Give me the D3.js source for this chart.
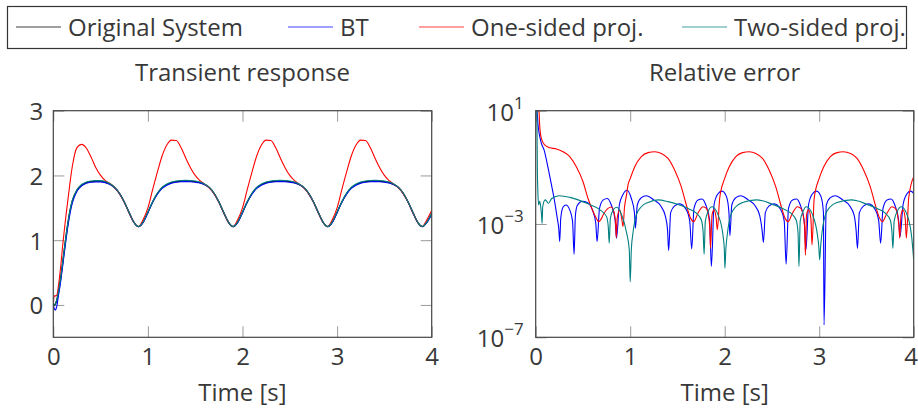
<!DOCTYPE html>
<html><head><meta charset="utf-8">
<script src="https://cdn.jsdelivr.net/npm/d3@7"></script>
<style>
body{margin:0;background:#fff;}
svg text{font-family:"Open Sans",sans-serif;fill:#383838;}
</style>
</head><body><svg id="c" width="918" height="409"></svg>
<script>
// ---------- data ----------
const seriesNames = ["Original System","BT","One-sided proj.","Two-sided proj."];
const seriesColors = ["#000000","#0000ff","#ff0000","#008080"];
const titles = ["Transient response","Relative error"];
const xLabel = "Time [s]";
const timeTicks = [0,1,2,3,4];
const respTicks = [0,1,2,3];
const errTicks = [1e1,1e-3,1e-7];
const errTickExp = ["1","\u22123","\u22127"];

const tResp = [0,0.01,0.02,0.03,0.04,0.05,0.075,0.1,0.125,0.15,0.175,0.2,0.25,
 0.3,0.35,0.4,0.45,0.5,0.55,0.6,0.65,0.7,0.75,0.8,0.85,0.9,
 0.95,1.0,1.05,1.1,1.15,1.2,1.25,1.3,1.35,1.4,1.45,1.5,1.55,1.6,1.65,1.7,1.75,1.8,1.85,1.9,
 1.95,2.0,2.05,2.1,2.15,2.2,2.25,2.3,2.35,2.4,2.45,2.5,2.55,2.6,2.65,2.7,2.75,2.8,2.85,2.9,
 2.95,3.0,3.05,3.1,3.15,3.2,3.25,3.3,3.35,3.4,3.45,3.5,3.55,3.6,3.65,3.7,3.75,3.8,3.85,3.9,
 3.95,4.0];
const yOrig = [0,0,0.01,0.04,0.09,0.16,0.38,0.66,0.95,1.22,1.44,1.6,1.77,
 1.85,1.89,1.905,1.91,1.91,1.895,1.865,1.81,1.72,1.59,1.43,1.28,1.21,
 1.28,1.43,1.59,1.72,1.81,1.86,1.89,1.905,1.913,1.915,1.913,1.905,1.89,1.86,1.81,1.72,1.59,1.43,1.28,1.21,
 1.28,1.43,1.59,1.72,1.81,1.86,1.89,1.905,1.913,1.915,1.913,1.905,1.89,1.86,1.81,1.72,1.59,1.43,1.28,1.21,
 1.28,1.43,1.59,1.72,1.81,1.86,1.89,1.905,1.913,1.915,1.913,1.905,1.89,1.86,1.81,1.72,1.59,1.43,1.28,1.21,
 1.28,1.41];
const yBT = [0,-0.05,-0.08,-0.06,0.0,0.1,0.33,0.61,0.9,1.17,1.4,1.57,1.755,
 1.84,1.88,1.895,1.9,1.9,1.888,1.86,1.807,1.72,1.59,1.43,1.28,1.21,
 1.275,1.425,1.585,1.71,1.8,1.85,1.88,1.895,1.903,1.905,1.903,1.895,1.882,1.855,1.807,1.72,1.59,1.43,1.28,1.21,
 1.275,1.425,1.585,1.71,1.8,1.85,1.88,1.895,1.903,1.905,1.903,1.895,1.882,1.855,1.807,1.72,1.59,1.43,1.28,1.21,
 1.275,1.425,1.585,1.71,1.8,1.85,1.88,1.895,1.903,1.905,1.903,1.895,1.882,1.855,1.807,1.72,1.59,1.43,1.28,1.21,
 1.275,1.40];
const yOne = [0,0.14,0.14,0.14,0.16,0.25,0.55,0.93,1.27,1.57,1.87,2.13,2.43,
 2.48,2.42,2.28,2.12,2.0,1.92,1.875,1.81,1.72,1.59,1.43,1.28,1.21,
 1.32,1.5,1.78,2.05,2.3,2.47,2.545,2.54,2.43,2.27,2.12,2.0,1.92,1.865,1.81,1.72,1.59,1.43,1.28,1.21,
 1.32,1.5,1.78,2.05,2.3,2.47,2.545,2.54,2.43,2.27,2.12,2.0,1.92,1.865,1.81,1.72,1.59,1.43,1.28,1.21,
 1.32,1.5,1.78,2.05,2.3,2.47,2.545,2.54,2.43,2.27,2.12,2.0,1.92,1.865,1.81,1.72,1.59,1.43,1.28,1.21,
 1.32,1.46];
const yTwo = [0,0,0.01,0.05,0.1,0.17,0.39,0.67,0.96,1.23,1.45,1.61,1.78,
 1.86,1.9,1.915,1.92,1.92,1.905,1.872,1.815,1.725,1.595,1.435,1.283,1.212,
 1.283,1.435,1.595,1.725,1.817,1.868,1.898,1.914,1.922,1.925,1.922,1.914,1.898,1.868,1.815,1.725,1.595,1.435,1.283,1.212,
 1.283,1.435,1.595,1.725,1.817,1.868,1.898,1.914,1.922,1.925,1.922,1.914,1.898,1.868,1.815,1.725,1.595,1.435,1.283,1.212,
 1.283,1.435,1.595,1.725,1.817,1.868,1.898,1.914,1.922,1.925,1.922,1.914,1.898,1.868,1.815,1.725,1.595,1.435,1.283,1.212,
 1.283,1.42];

const tErrBT = [0,0.014,0.025,0.042,0.06,0.09,0.13,0.166,0.2,0.226,0.245,0.254,
 0.265,0.29,0.32,0.36,0.39,0.406,0.42,0.44,0.49,0.55,0.6,0.635,0.65,
 0.675,0.715,0.758,0.8,0.84,0.855,0.885,0.925,0.966,1.012,1.045,1.055,
 1.075,1.118,1.17,1.25,1.32,1.37,1.395,1.407,1.428,1.47,1.524,1.594,1.63,1.651,
 1.675,1.718,1.76,1.8,1.84,1.859,1.887,1.925,1.972,2.02,2.045,2.055,
 2.075,2.118,2.17,2.25,2.32,2.37,2.395,2.41,2.43,2.47,2.524,2.594,2.63,2.65,
 2.675,2.718,2.76,2.8,2.84,2.86,2.887,2.925,2.972,3.02,3.045,3.051,
 3.075,3.118,3.17,3.25,3.32,3.37,3.39,3.405,3.425,3.47,3.524,3.594,3.63,3.65,
 3.675,3.718,3.76,3.8,3.84,3.855,3.887,3.925,3.968,4.0];
const eBT = [31.6,10,3.1,1.26,0.71,0.4,0.1,0.025,6.3e-3,1.78e-3,6.3e-4,2.4e-4,
 1.58e-3,3.98e-3,4.68e-3,3.16e-3,1.26e-3,8.5e-5,2.0e-3,4.47e-3,6.31e-3,5.62e-3,3.16e-3,1.12e-3,2.4e-4,
 3.55e-3,7.08e-3,7.94e-3,4.68e-3,1.41e-3,3.16e-4,4.68e-3,0.0112,0.0155,7.94e-3,2.51e-3,7.08e-4,
 4.68e-3,8.5e-3,0.01,7.08e-3,4.47e-3,2.0e-3,6.31e-4,1.15e-4,2.51e-3,4.37e-3,5.13e-3,3.16e-3,1.26e-3,1.32e-4,
 3.55e-3,7.08e-3,7.59e-3,4.68e-3,1.41e-3,3.16e-5,4.68e-3,0.0112,0.0145,9.1e-3,2.51e-3,3.9e-4,
 4.68e-3,8.5e-3,0.01,7.08e-3,4.47e-3,2.0e-3,6.31e-4,2.24e-4,2.51e-3,4.37e-3,5.13e-3,3.16e-3,1.26e-3,3.8e-5,
 3.55e-3,7.08e-3,7.59e-3,4.68e-3,1.41e-3,1.26e-4,4.68e-3,0.0112,0.0145,9.1e-3,2.51e-3,2.75e-7,
 4.68e-3,8.5e-3,0.01,7.08e-3,4.47e-3,2.0e-3,6.31e-4,1.38e-4,2.51e-3,4.37e-3,5.13e-3,3.16e-3,1.26e-3,2.1e-4,
 3.55e-3,7.08e-3,7.59e-3,4.68e-3,1.41e-3,3.55e-4,4.68e-3,0.0112,0.0145,0.012];

const tErrOne = [0,0.03,0.035,0.042,0.06,0.095,0.148,0.22,0.29,0.36,0.43,0.5,0.554,0.607,0.645,0.667,0.69,0.72,0.765,0.8,0.83,0.846,0.853,0.862,0.89,0.912,0.924,0.94,0.96,0.977,
 1.0,1.048,1.118,1.189,1.26,1.33,1.4,1.47,1.54,1.594,1.64,1.672,1.717,1.77,1.806,1.841,1.85,1.866,1.887,1.91,1.922,1.947,
 2.0,2.048,2.118,2.189,2.26,2.33,2.4,2.47,2.54,2.594,2.64,2.67,2.717,2.77,2.806,2.845,2.854,2.866,2.887,2.912,2.924,2.947,
 3.0,3.048,3.118,3.189,3.255,3.33,3.4,3.47,3.54,3.594,3.64,3.668,3.717,3.77,3.806,3.843,3.852,3.866,3.887,3.91,3.922,3.947,4.0];
const eOne = [31.6,15.8,10,3.09,1.05,0.617,0.49,0.447,0.355,0.24,0.105,0.0316,7.94e-3,2.75e-3,1.51e-3,1.2e-3,1.45e-3,2.29e-3,3.55e-3,3.98e-3,2.51e-3,1e-3,3.3e-4,1.58e-3,3.16e-3,1.41e-3,8.1e-4,3.98e-3,0.01,0.024,
 0.0398,0.105,0.24,0.331,0.355,0.309,0.209,0.0813,0.0209,4.68e-3,1.58e-3,1.2e-3,2.4e-3,4.07e-3,3.55e-3,9.1e-4,1.38e-4,2.09e-3,3.16e-3,1.58e-3,6.31e-4,8.13e-3,
 0.0407,0.105,0.24,0.331,0.355,0.309,0.209,0.0813,0.0209,4.68e-3,1.58e-3,1.2e-3,2.4e-3,4.07e-3,3.55e-3,9.1e-4,7.94e-5,2.09e-3,3.16e-3,1.58e-3,1.82e-4,8.13e-3,
 0.0407,0.105,0.24,0.331,0.355,0.309,0.209,0.0813,0.0209,4.68e-3,1.58e-3,1.2e-3,2.4e-3,4.07e-3,3.55e-3,9.1e-4,3.16e-4,2.09e-3,3.16e-3,1.58e-3,3.16e-4,8.13e-3,0.0468];

const tErrTwo = [0,0.012,0.018,0.022,0.03,0.042,0.053,0.062,0.068,0.074,0.1,0.117,0.134,0.17,0.25,0.363,0.54,0.68,0.75,0.768,0.778,0.79,0.82,0.857,0.91,0.963,0.99,
 1.0,1.012,1.03,1.065,1.118,1.189,1.295,1.4,1.5,1.612,1.7,1.753,1.772,1.782,1.795,1.824,1.866,1.93,1.982,1.996,
 2.002,2.012,2.03,2.065,2.118,2.189,2.335,2.4,2.5,2.612,2.7,2.756,2.776,2.786,2.799,2.828,2.866,2.93,2.982,2.996,
 3.005,3.015,3.03,3.065,3.118,3.189,3.34,3.4,3.5,3.612,3.7,3.752,3.77,3.78,3.793,3.824,3.87,3.93,3.98,4.0];
const eTwo = [31.6,10,0.063,0.0182,4.68e-3,6.31e-3,4.07e-3,2.0e-3,1.05e-3,4.07e-3,7.08e-3,6.31e-3,5.37e-3,7.94e-3,0.01,8.7e-3,5.37e-3,3.16e-3,1.82e-3,7.94e-4,2.09e-4,1.58e-3,3.16e-3,3.89e-3,2.09e-3,4.68e-4,1.26e-4,
 9.1e-6,1.26e-4,5.0e-4,2.09e-3,4.07e-3,5.75e-3,7.08e-3,6.17e-3,5.01e-3,3.55e-3,2.4e-3,1.38e-3,5.0e-4,8.5e-5,1.26e-3,2.75e-3,4.07e-3,2.09e-3,3.98e-4,1.26e-4,
 2.75e-5,1.26e-4,5.0e-4,2.09e-3,4.07e-3,5.75e-3,7.08e-3,6.61e-3,5.01e-3,3.55e-3,2.4e-3,1.38e-3,5.0e-4,3.16e-5,1.26e-3,2.75e-3,4.07e-3,2.09e-3,3.98e-4,1.58e-4,
 5.37e-5,1.58e-4,5.0e-4,2.09e-3,4.07e-3,5.75e-3,7.08e-3,6.61e-3,5.01e-3,3.55e-3,2.4e-3,1.38e-3,5.0e-4,1.38e-4,1.26e-3,2.75e-3,4.07e-3,2.09e-3,3.16e-4,5.37e-5];

// ---------- layout ----------
const svg = d3.select("#c");
const FS = 24;
const L = {x0:53.3, x1:431.7, y0:110.7, y1:337.3};
const R = {x0:535.7, x1:913.7, y0:110.7, y1:337.3};
const TICK = 11;
const tickColor = "#9a9a9a", frameColor = "#444";

const xL = d3.scaleLinear().domain([0,4]).range([L.x0,L.x1]);
const yL = d3.scaleLinear().domain([-0.5,3]).range([L.y1,L.y0]);
const xR = d3.scaleLinear().domain([0,4]).range([R.x0,R.x1]);
const yR = d3.scaleLog().domain([1e-7,1e1]).range([R.y1,R.y0]);

function styleAxis(g, noLabels){
  g.select(".domain").remove();
  g.selectAll(".tick line").attr("stroke",tickColor).attr("stroke-width",1);
  g.selectAll(".tick text").attr("font-size",FS).attr("fill","#383838")
   .style("font-family",'"Open Sans",sans-serif');
  if(noLabels) g.selectAll(".tick text").remove();
}

function panel(P, xs, ys, yTickVals, clipId){
  // ticks on all four sides, pointing inwards
  const gb = svg.append("g").attr("transform",`translate(0,${P.y1})`)
    .call(d3.axisBottom(xs).tickValues(timeTicks).tickSize(-TICK).tickPadding(10.5).tickFormat(d3.format("d")))
    .call(g=>styleAxis(g,false));
  // keep the last label inside the window
  gb.selectAll(".tick text").filter(d=>d===4 && P===R).attr("dx",-3);
  svg.append("g").attr("transform",`translate(0,${P.y0})`)
    .call(d3.axisTop(xs).tickValues(timeTicks).tickSize(-TICK))
    .call(g=>styleAxis(g,true));
  svg.append("g").attr("transform",`translate(${P.x1},0)`)
    .call(d3.axisRight(ys).tickValues(yTickVals).tickSize(-TICK))
    .call(g=>styleAxis(g,true));
  svg.append("defs").append("clipPath").attr("id",clipId)
    .append("rect").attr("x",P.x0).attr("y",P.y0).attr("width",P.x1-P.x0).attr("height",P.y1-P.y0);
}

// left panel
panel(L, xL, yL, respTicks, "clipL");
const gLeftAx = svg.append("g").attr("transform",`translate(${L.x0},0)`)
  .call(d3.axisLeft(yL).tickValues(respTicks).tickSize(-TICK).tickPadding(10).tickFormat(d3.format("d")))
  .call(g=>styleAxis(g,false));
gLeftAx.selectAll(".tick text").attr("dy","0.37em");

// right panel
panel(R, xR, yR, errTicks, "clipR");
svg.append("g").attr("transform",`translate(${R.x0},0)`)
  .call(d3.axisLeft(yR).tickValues(errTicks).tickSize(-TICK))
  .call(g=>styleAxis(g,true));
errTicks.forEach((v,i)=>{
  const t = svg.append("text").attr("x",R.x0-12).attr("y",yR(v)+10)
    .attr("text-anchor","end").attr("font-size",FS);
  t.append("tspan").text("10");
  t.append("tspan").attr("font-size",17).attr("dy",-12).text(errTickExp[i]);
});

// lines
const lineL = d3.line().curve(d3.curveMonotoneX);
const respSeries = [yOrig,yBT,yOne,yTwo];
const gL = svg.append("g").attr("clip-path","url(#clipL)");
respSeries.forEach((ys,i)=>{
  gL.append("path")
    .attr("d", lineL(tResp.map((t,j)=>[xL(t), yL(ys[j])])))
    .attr("fill","none").attr("stroke",seriesColors[i]).attr("stroke-width", i===0?1.4:1.1);
});

const errSeries = [[tErrBT,eBT,1],[tErrOne,eOne,2],[tErrTwo,eTwo,3]];
const gR = svg.append("g").attr("clip-path","url(#clipR)");
errSeries.forEach(([ts,es,ci])=>{
  gR.append("path")
    .attr("d", lineL(ts.map((t,j)=>[xR(t), yR(es[j])])))
    .attr("fill","none").attr("stroke",seriesColors[ci]).attr("stroke-width",1.1)
    .attr("stroke-linejoin","round");
});

// frames
[L,R].forEach(P=>{
  svg.append("rect").attr("x",P.x0).attr("y",P.y0).attr("width",P.x1-P.x0).attr("height",P.y1-P.y0)
    .attr("fill","none").attr("stroke",frameColor).attr("stroke-width",1.2);
});

// titles & labels
[[L,titles[0]],[R,titles[1]]].forEach(([P,txt])=>{
  svg.append("text").attr("x",(P.x0+P.x1)/2).attr("y",81).attr("text-anchor","middle")
    .attr("font-size",FS).text(txt);
  svg.append("text").attr("x",(P.x0+P.x1)/2).attr("y",401).attr("text-anchor","middle")
    .attr("font-size",FS).text(xLabel);
});

// legend
svg.append("rect").attr("x",7.5).attr("y",6.5).attr("width",899).attr("height",42)
  .attr("fill","#fff").attr("stroke","#333").attr("stroke-width",1.2);
const legX = [16,288,419,682];
seriesNames.forEach((n,i)=>{
  svg.append("line").attr("x1",legX[i]).attr("x2",legX[i]+45).attr("y1",27).attr("y2",27)
    .attr("stroke",seriesColors[i]).attr("stroke-width",1.1).attr("stroke-opacity",0.75);
  svg.append("text").attr("x",legX[i]+52).attr("y",35.5).attr("font-size",FS).text(n);
});
</script></body></html>
